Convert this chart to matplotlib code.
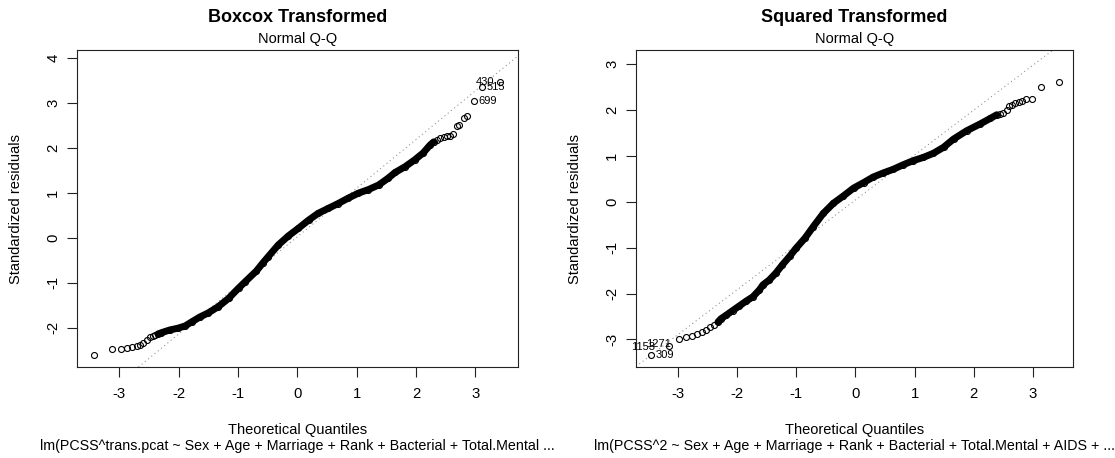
import matplotlib.pyplot as plt

plt.rcParams['font.family'] = ['Liberation Sans', 'DejaVu Sans']
plt.rcParams['axes.unicode_minus'] = False

# Boxcox model: theoretical quantiles vs sorted standardized residuals
boxcox_q = [-3.43, -3.12, -2.97, -2.87, -2.78, -2.71, -2.65, -2.60, -2.54, -2.48,
            -2.44, -2.40, -2.35, -2.29, -2.15, -2.01, -1.89, -1.78, -1.64, -1.50,
            -1.33, -1.16, -0.99, -0.88, -0.69, -0.58, -0.49, -0.32, -0.15, 0.02,
            0.19, 0.35, 0.52, 0.69, 0.86, 1.03, 1.20, 1.37, 1.53, 1.65,
            1.82, 1.98, 2.12, 2.24, 2.30, 2.35, 2.41, 2.47, 2.52, 2.58,
            2.63, 2.69, 2.73, 2.81, 2.87, 2.98, 3.12, 3.42]
boxcox_r = [-2.61, -2.48, -2.48, -2.44, -2.43, -2.41, -2.38, -2.33, -2.27, -2.21,
            -2.19, -2.16, -2.14, -2.11, -2.05, -2.01, -1.96, -1.87, -1.76, -1.67,
            -1.53, -1.35, -1.12, -0.98, -0.74, -0.56, -0.42, -0.16, 0.04, 0.21,
            0.39, 0.54, 0.65, 0.76, 0.88, 0.99, 1.07, 1.17, 1.32, 1.45,
            1.58, 1.73, 1.88, 2.06, 2.13, 2.18, 2.21, 2.23, 2.25, 2.27,
            2.30, 2.48, 2.50, 2.65, 2.70, 3.04, 3.34, 3.46]
boxcox_ids = ['699', '515', '430']          # last three points
boxcox_qqline = (0.02, 1.08)                 # intercept, slope

# Squared model
squared_q = [-3.45, -3.14, -2.97, -2.86, -2.76, -2.67, -2.59, -2.52, -2.45, -2.38,
             -2.32, -2.27, -2.18, -2.07, -1.96, -1.85, -1.73, -1.62, -1.56, -1.45,
             -1.34, -1.23, -1.11, -1.00, -0.85, -0.71, -0.54, -0.37, -0.20, -0.03,
             0.14, 0.30, 0.47, 0.64, 0.81, 0.98, 1.15, 1.32, 1.49, 1.66,
             1.88, 2.11, 2.28, 2.39, 2.45, 2.50, 2.56, 2.60, 2.64, 2.70,
             2.77, 2.81, 2.88, 2.99, 3.14, 3.44]
squared_r = [-3.33, -3.14, -2.98, -2.95, -2.92, -2.88, -2.84, -2.79, -2.73, -2.68,
             -2.62, -2.55, -2.47, -2.37, -2.27, -2.17, -2.07, -1.92, -1.81, -1.70,
             -1.55, -1.37, -1.19, -1.01, -0.79, -0.54, -0.25, -0.03, 0.13, 0.30,
             0.42, 0.54, 0.63, 0.71, 0.81, 0.90, 0.97, 1.06, 1.19, 1.37,
             1.55, 1.70, 1.82, 1.90, 1.92, 1.93, 2.00, 2.08, 2.11, 2.15,
             2.17, 2.19, 2.24, 2.25, 2.51, 2.61]
squared_ids = ['309', '1153', '1271']       # first three points
squared_qqline = (0.04, 0.98)

x_ticks = [-3, -2, -1, 0, 1, 2, 3]
boxcox_yticks = [-2, -1, 0, 1, 2, 3, 4]
squared_yticks = [-3, -2, -1, 0, 1, 2, 3]

W, H = 1115, 458
fig = plt.figure(figsize=(W / 100, H / 100), dpi=100)


def px_box(left, top, right, bottom):
    return [left / W, 1 - bottom / H, (right - left) / W, (bottom - top) / H]


def qq_panel(rect, q, r, dense, qqline, xlim, ylim, yticks):
    ax = fig.add_axes(rect)
    # the bulk of the points overlap into a solid band
    band = [(a, b) for a, b in zip(q, r) if dense[0] <= a <= dense[1]]
    ax.plot([a for a, b in band], [b for a, b in band], color='black', lw=5,
            solid_capstyle='round', zorder=2)
    ax.plot(q, r, 'o', ms=4.3, mfc='none', mec='black', mew=0.8, zorder=3)
    ax.axline((0, qqline[0]), slope=qqline[1], color='#888888', lw=0.75,
              linestyle=(0, (1, 3)), zorder=1)
    ax.set_xlim(*xlim)
    ax.set_ylim(*ylim)
    ax.set_xticks(x_ticks)
    ax.set_yticks(yticks)
    ax.tick_params(direction='out', length=7, width=0.8, labelsize=10.7, color='#222222')
    ax.tick_params(axis='x', pad=7.5)
    ax.tick_params(axis='y', pad=5)
    plt.setp(ax.get_yticklabels(), rotation=90, va='center')
    for s in ax.spines.values():
        s.set_linewidth(0.8)
        s.set_color('#222222')
    return ax


def labels(fig_cx, title, caption):
    fig.text(fig_cx / W, 1 - 21.5 / H, title, ha='center', va='baseline',
             fontsize=13, fontweight='bold')
    fig.text(fig_cx / W, 1 - 42.5 / H, 'Normal Q-Q', ha='center', va='baseline', fontsize=10.5)
    fig.text(fig_cx / W, 1 - 434 / H, 'Theoretical Quantiles', ha='center',
             va='baseline', fontsize=10.5)
    fig.text(fig_cx / W, 1 - 450 / H, caption, ha='center', va='baseline', fontsize=10.3)


# Left: Boxcox
ax1 = qq_panel(px_box(77, 50, 518, 367), boxcox_q, boxcox_r, (-2.35, 2.30),
               boxcox_qqline, (-3.715, 3.722), (-2.873, 4.171), boxcox_yticks)
labels(297.5, 'Boxcox Transformed',
       'lm(PCSS^trans.pcat ~ Sex + Age + Marriage + Rank + Bacterial + Total.Mental ...')
fig.text(16 / W, 1 - 208.5 / H, 'Standardized residuals', rotation=90,
         ha='center', va='center', fontsize=10.5)
for name, i, dx, ha in zip(boxcox_ids, [-3, -2, -1], [3, 3, -4.5], ['left', 'left', 'right']):
    ax1.annotate(name, (boxcox_q[i], boxcox_r[i]), xytext=(dx, 0),
                 textcoords='offset points', ha=ha, va='center', fontsize=8)

# Right: Squared
ax2 = qq_panel(px_box(636, 50, 1073, 367), squared_q, squared_r, (-2.32, 2.39),
               squared_qqline, (-3.704, 3.677), (-3.601, 3.312), squared_yticks)
labels(854.5, 'Squared Transformed',
       'lm(PCSS^2 ~ Sex + Age + Marriage + Rank + Bacterial + Total.Mental + AIDS + ...')
fig.text(575 / W, 1 - 208.5 / H, 'Standardized residuals', rotation=90,
         ha='center', va='center', fontsize=10.5)
for name, i, off, ha in zip(squared_ids, [0, 1, 2], [(3, 0), (-10.5, -1), (-6, -4)],
                            ['left', 'right', 'right']):
    ax2.annotate(name, (squared_q[i], squared_r[i]), xytext=off,
                 textcoords='offset points', ha=ha, va='center', fontsize=8)

fig.savefig('out.png', dpi=100, facecolor='white')
